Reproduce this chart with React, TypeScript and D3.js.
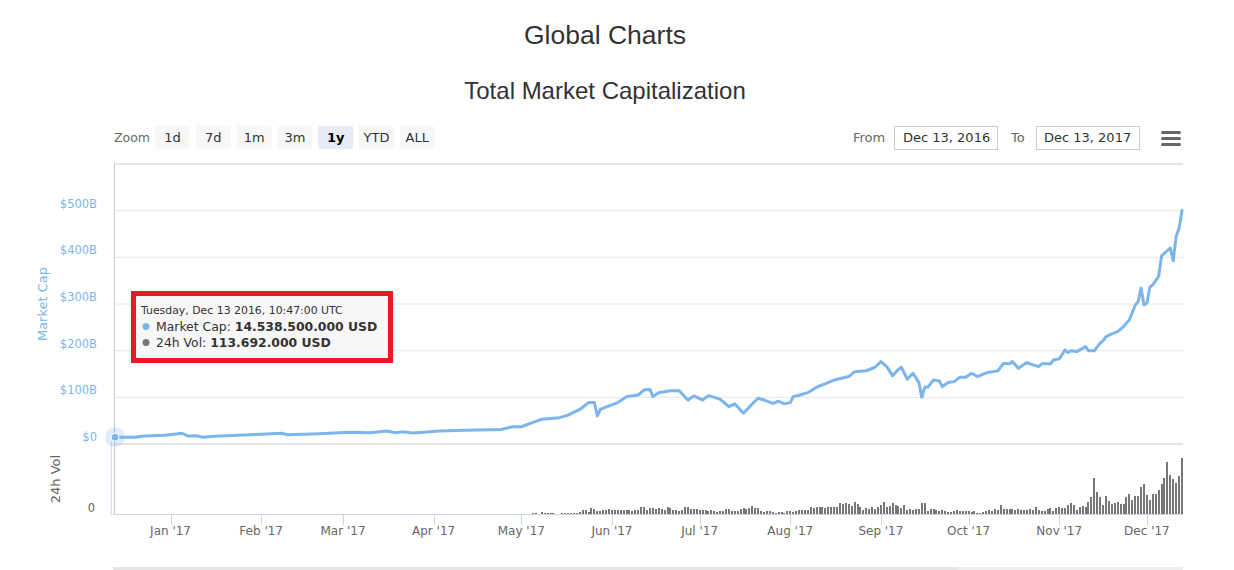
import React from 'react';
import * as d3 from 'd3';

const DAY = 86400000;
const START = Date.UTC(2016, 11, 13);
const END = Date.UTC(2017, 11, 13);

// Market cap samples: day offset from Dec 13 2016, value in billions USD
const mcapDays = [
  0, 7, 10, 17, 23, 25, 28, 30, 34, 44,
  50, 57, 59, 70, 80, 87, 93, 96, 98, 102,
  111, 120, 132, 136, 139, 143, 146, 152, 155, 159,
  162, 164, 165, 166, 169, 172, 175, 179, 181, 183,
  184, 186, 190, 193, 196, 198, 201, 203, 205, 207,
  210, 212, 215, 218, 220, 222, 225, 227, 229, 231,
  232, 234, 237, 240, 242, 246, 251, 253, 257, 260,
  262, 264, 266, 268, 269, 271, 273, 275, 276, 277,
  278, 280, 282, 283, 285, 287, 289, 291, 293, 295,
  297, 299, 302, 304, 306, 307, 309, 311, 312, 314,
  316, 317, 320, 321, 323, 325, 326, 327, 329, 331,
  332, 333, 335, 337, 338, 339, 341, 343, 345, 347,
  349, 350, 351, 352, 353, 354, 355, 357, 358, 361,
  362, 363, 364, 365,
];
const mcapValues = [
  14.54, 14.4, 17, 18.6, 23, 17, 17.8, 14.4, 16.5, 19.3,
  20.8, 23, 20, 22, 25, 24, 28, 24, 26, 23.6,
  28, 29.3, 31, 37, 37, 46.5, 53, 56.5, 62, 74,
  88.7, 88.7, 60, 74, 81.5, 88.7, 101.5, 105, 116, 117,
  101.5, 110, 114, 114, 94.4, 103, 94.4, 103.7, 100, 96,
  80, 86, 66, 86, 98, 94.4, 87, 91.6, 86, 88.7,
  101.5, 104.5, 110, 121.6, 126.6, 137, 144.5, 155, 157, 164.5,
  176.7, 166, 146, 160, 164.5, 139, 151.6, 131.6, 100, 121.6,
  121.6, 137, 135, 123, 131.6, 133.7, 143, 143, 151.6, 144.5,
  149.6, 153.9, 156.7, 173, 171.7, 176.7, 162.4, 171, 174.5, 169.5,
  166, 171.7, 171.7, 180, 182.4, 201.7, 196, 200, 198, 205,
  208.8, 200, 200, 216, 221, 230, 236, 241, 251.7, 266,
  298, 305, 334, 298, 302, 336, 341, 359, 403, 420,
  392.7, 445, 463, 500.6,
];

// Daily 24h volume, billions USD, from Dec 13 2016 to Dec 13 2017
const volumeValues = [
  0.11, 0.12, 0.10, 0.13, 0.11, 0.12, 0.10, 0.09, 0.11, 0.12, 0.13, 0.12, 0.11, 0.10, 0.12, 0.14, 0.13, 0.12, 0.15, 0.18, 0.20, 0.22, 0.24, 0.20, 0.18, 0.16, 0.15, 0.14, 0.17, 0.16,
  0.15, 0.14, 0.13, 0.12, 0.11, 0.10, 0.11, 0.12, 0.10, 0.11, 0.12, 0.13, 0.12, 0.11, 0.12, 0.13, 0.14, 0.13, 0.12, 0.11, 0.12, 0.13, 0.14, 0.15, 0.14, 0.13, 0.12, 0.13, 0.14, 0.15,
  0.16, 0.15, 0.14, 0.16, 0.17, 0.18, 0.16, 0.15, 0.17, 0.18, 0.19, 0.20, 0.21, 0.20, 0.19, 0.18, 0.20, 0.22, 0.21, 0.20, 0.19, 0.18, 0.20, 0.21, 0.22, 0.23, 0.21, 0.20, 0.22, 0.23,
  0.22, 0.21, 0.23, 0.24, 0.30, 0.22, 0.21, 0.20, 0.22, 0.21, 0.20, 0.19, 0.20, 0.21, 0.22, 0.21, 0.20, 0.22, 0.23, 0.24, 0.30, 0.23, 0.22, 0.21, 0.22, 0.23, 0.22, 0.21, 0.22, 0.23,
  0.24, 0.30, 0.23, 0.22, 0.21, 0.22, 0.23, 0.30, 0.24, 0.23, 0.22, 0.21, 0.22, 0.23, 0.24, 0.23, 0.40, 0.22, 0.23, 0.24,
  0.5, 0.3, 0.4, 0.9, 1.2, 0.6, 1.5, 1.0, 1.2, 1.0, 0.8, 0.5, 0.3, 0.9, 1.0, 1.0, 1.1, 1.0, 1.2, 1.7,
  2.7, 2.5, 1.6, 3.5, 3.2, 2.2, 1.8, 2.5, 2.3, 3.0,
  2.6, 2.4, 2.5, 2.3, 2.6, 2.4, 2.5, 2.2, 2.6, 2.4,
  4.0, 4.2, 2.5, 3.6, 3.4, 2.8, 3.5, 3.2, 2.4, 3.8,
  3.6, 2.4, 2.6, 2.2, 2.5, 3.8, 3.9, 3.0, 3.2, 2.8,
  2.5, 2.6, 2.4, 2.2, 2.6, 1.8, 1.6, 1.9, 1.8, 3.0,
  2.9, 2.0, 2.2, 1.9, 3.2, 3.4, 2.8, 3.3, 4.5, 3.6,
  3.4, 1.8, 1.6, 2.2, 2.0, 1.4, 1.2, 1.3, 1.5, 1.2,
  1.8, 1.9, 1.7, 1.9, 2.4, 2.6, 2.3, 2.6, 3.8, 3.6,
  4.0, 3.8, 4.0, 3.7, 3.9, 4.1, 3.9, 4.2,
  6.0, 5.5, 6.0, 5.5, 4.5, 6.5, 5.5, 4.0, 2.5, 3.5, 3.0, 4.0, 3.0, 4.0, 5.0,
  6.5, 4, 4.5, 6, 5, 4.5, 3.5, 5, 2.5, 3,
  2.5, 3, 3, 6, 6.25, 2, 3, 3, 2.5, 2,
  2.5, 2, 1.5, 1.5, 2, 2.75, 2, 2, 1.75, 1.75,
  1.5, 1.75, 1.25, 1.25, 1.5, 2, 2.75, 2, 3, 2.5,
  5, 3, 3, 3, 3.25, 2.75, 3, 2.5, 2.75, 2.5,
  3, 2.75, 4, 2.5, 2.25, 2, 3, 3.5, 2, 3.75,
  4, 3.5, 3.5, 5, 6, 5, 2.5, 4, 4.5, 4, 6.5, 9, 18.5,
  11.5, 9, 5, 9.5, 7, 5.5, 6, 6.5, 5.5, 5.5, 9, 10.5, 7.5, 9.5, 9.5, 14, 15.5, 10, 7.5, 10.5, 10.5, 12.5, 15.5,
  18.5, 26.5, 20, 18, 16, 19.5, 28.5,
];

const yTicks = [0, 100, 200, 300, 400, 500, 600];
const rangeButtons = ['1d', '7d', '1m', '3m', '1y', 'YTD', 'ALL'];
const selectedRange = '1y';
const fromDate = 'Dec 13, 2016';
const toDate = 'Dec 13, 2017';
const tooltipDate = 'Tuesday, Dec 13 2016, 10:47:00 UTC';
const tooltipCap = '14.538.500.000 USD';
const tooltipVol = '113.692.000 USD';

const FONT = '"DejaVu Sans", Verdana, sans-serif';
const BLUE = '#7cb5ec';

export default function App() {
  const left = 115;
  const right = 1182;
  const x = d3.scaleUtc().domain([new Date(START), new Date(END)]).range([left, right]);
  const y = d3.scaleLinear().domain([0, 600]).range([444, 164]);
  const yv = d3.scaleLinear().domain([0, 35.5]).range([515, 444]);

  const mcap = mcapDays.map((d, i) => ({ date: new Date(START + d * DAY), v: mcapValues[i] }));
  const line = d3
    .line<{ date: Date; v: number }>()
    .x((d) => x(d.date))
    .y((d) => y(d.v))
    .curve(d3.curveLinear);

  const vols = volumeValues.map((v, i) => ({ date: new Date(START + i * DAY), v }));
  const months = x.ticks(d3.utcMonth.every(1) as any);
  const fmt = d3.utcFormat("%b '%y");

  const first = mcap[0];
  const fx = x(first.date);
  const fy = y(first.v);

  return (
    <svg
      width={1234}
      height={570}
      style={{ position: 'absolute', left: 0, top: 0, background: '#fff' }}
      fontFamily={FONT}
    >
      <rect x={0} y={0} width={1234} height={570} fill="#fff" />
      <text x={605} y={44} textAnchor="middle" fontSize={26.5} fill="#333" fontFamily='"Liberation Sans", Arial, sans-serif'>
        Global Charts
      </text>
      <text x={605} y={99} textAnchor="middle" fontSize={24} fill="#333" fontFamily='"Liberation Sans", Arial, sans-serif'>
        Total Market Capitalization
      </text>

      {/* range selector */}
      <text x={114} y={142} fontSize={12.5} fill="#666">Zoom</text>
      {rangeButtons.map((b, i) => {
        const bx = 155 + i * 40.8;
        const sel = b === selectedRange;
        return (
          <g key={b}>
            <rect x={bx} y={126} width={35} height={23} rx={2} fill={sel ? '#e6ebf5' : '#f7f7f7'} />
            <text
              x={bx + 17.5}
              y={141.5}
              textAnchor="middle"
              fontSize={13}
              fontWeight={sel ? 'bold' : 'normal'}
              fill={sel ? '#000' : '#333'}
            >
              {b}
            </text>
          </g>
        );
      })}
      <text x={853} y={142} fontSize={13} fill="#666">From</text>
      <rect x={894.5} y={126.5} width={103} height={23} fill="#fff" stroke="#cccccc" />
      <text x={903} y={142} fontSize={13} fill="#333">{fromDate}</text>
      <text x={1011} y={142} fontSize={13} fill="#666">To</text>
      <rect x={1036.5} y={126.5} width={103} height={23} fill="#fff" stroke="#cccccc" />
      <text x={1044} y={142} fontSize={13} fill="#333">{toDate}</text>
      {[132.5, 138.5, 144.5].map((yy) => (
        <line key={yy} x1={1162.5} x2={1179.5} y1={yy} y2={yy} stroke="#666" strokeWidth={3} strokeLinecap="round" />
      ))}

      {/* gridlines */}
      {yTicks.map((t) => (
        <line
          key={t}
          x1={left}
          x2={1183}
          y1={y(t)}
          y2={y(t)}
          stroke="#e6e6e6"
          strokeWidth={t === 0 || t === 600 ? 2 : 1}
        />
      ))}
      {yTicks
        .filter((t) => t < 600)
        .map((t) => (
          <text key={t} x={97} y={y(t) - 3} textAnchor="end" fontSize={11.5} fill={BLUE}>
            {t === 0 ? '$0' : `$${t}B`}
          </text>
        ))}
      <text
        transform={`translate(47,${(164 + 444) / 2}) rotate(-90)`}
        textAnchor="middle"
        fontSize={13}
        fill={BLUE}
      >
        Market Cap
      </text>
      <text transform="translate(60,479) rotate(-90)" textAnchor="middle" fontSize={13} fill="#666">
        24h Vol
      </text>
      <text x={95} y={512} textAnchor="end" fontSize={11.5} fill="#666">0</text>

      {/* left axis line */}
      <line x1={114.5} x2={114.5} y1={163} y2={515} stroke="#c8c8c8" />
      {/* crosshair */}
      <line x1={111.5} x2={111.5} y1={441} y2={515} stroke="#d6e0f0" strokeWidth={1.5} />

      {/* volume bars */}
      <g shapeRendering="crispEdges">
        {vols.map((d, i) => {
          const top = Math.round(yv(d.v));
          const h = 515 - top;
          if (h <= 0) return null;
          return <rect key={i} x={Math.round(x(d.date)) - 1} y={top} width={2} height={h} fill="#777" />;
        })}
      </g>

      {/* x axis */}
      <line x1={left} x2={1183} y1={514.5} y2={514.5} stroke="#ccd6eb" />
      {months.map((m) => (
        <g key={m.getTime()}>
          <line x1={Math.round(x(m)) + 0.5} x2={Math.round(x(m)) + 0.5} y1={515} y2={525} stroke="#ccd6eb" />
          <text x={x(m)} y={535} textAnchor="middle" fontSize={12} fill="#666">
            {fmt(m)}
          </text>
        </g>
      ))}

      {/* market cap line */}
      <path d={line(mcap) || ''} fill="none" stroke={BLUE} strokeWidth={3} strokeLinejoin="round" strokeLinecap="round" />

      {/* hover marker */}
      <circle cx={fx} cy={fy} r={10} fill={BLUE} fillOpacity={0.25} />
      <circle cx={fx} cy={fy} r={4} fill={BLUE} stroke="#fff" strokeWidth={1} />

      {/* navigator edge */}
      <rect x={113} y={567} width={844} height={3} fill="#e6e6e6" />
      <rect x={957} y={567} width={226} height={3} fill="#eeeeee" />

      {/* tooltip */}
      <rect x={133.5} y={293.5} width={257} height={67} fill="#f7f7f7" fillOpacity={0.95} />
      <text x={141} y={313.8} fontSize={10.9} fill="#333">{tooltipDate}</text>
      <circle cx={146} cy={326.5} r={3.5} fill={BLUE} />
      <text x={156} y={331} fontSize={12.4} fill="#333">
        Market Cap: <tspan fontWeight="bold">{tooltipCap}</tspan>
      </text>
      <circle cx={146} cy={342.5} r={3.5} fill="#777" />
      <text x={156} y={347} fontSize={12.4} fill="#333">
        24h Vol: <tspan fontWeight="bold">{tooltipVol}</tspan>
      </text>
      <rect x={133.5} y={293.5} width={257} height={67} fill="none" stroke="#e51c23" strokeWidth={5} />
    </svg>
  );
}
